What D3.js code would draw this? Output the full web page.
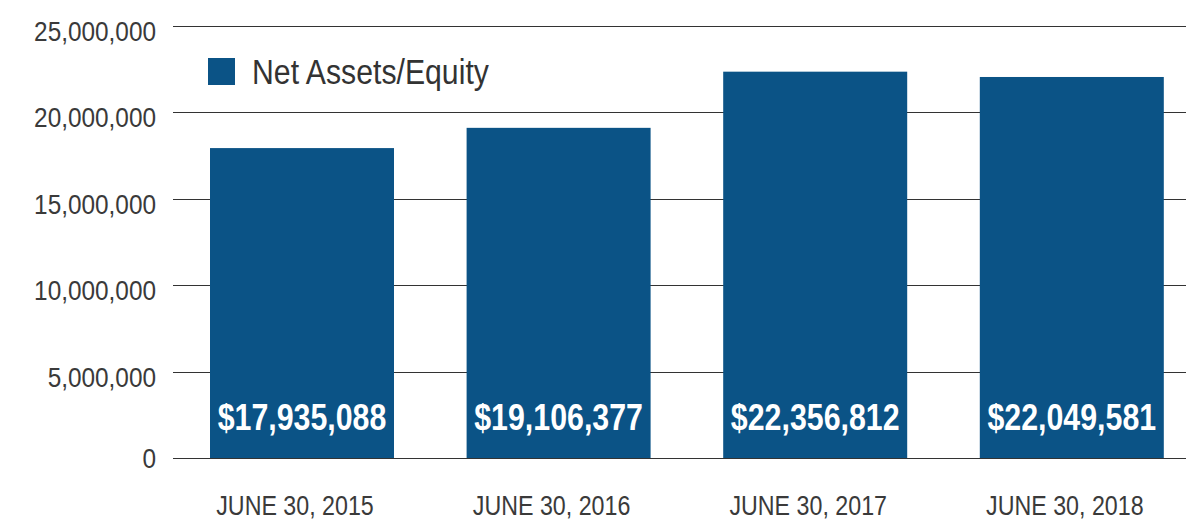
<!DOCTYPE html>
<html><head><meta charset="utf-8">
<script src="https://cdn.jsdelivr.net/npm/d3@7"></script>
<style>
body{margin:0;background:#fff;}
svg{display:block;}
text{font-family:"Liberation Sans",Arial,sans-serif;}
</style></head>
<body>
<svg id="c" width="1186" height="522"></svg>
<script>
const categories = ["JUNE 30, 2015","JUNE 30, 2016","JUNE 30, 2017","JUNE 30, 2018"];
const values = [17935088, 19106377, 22356812, 22049581];
const yTicks = [0, 5000000, 10000000, 15000000, 20000000, 25000000];
const seriesName = "Net Assets/Equity";
const barColor = "#0b5386";

const svg = d3.select("#c");
const plotLeft = 173, plotRight = 1186, plotTop = 26, plotBottom = 458;

const step = 256.6, barW = 184;
const xs = d3.scaleBand().domain(categories)
  .range([210 - (step - barW) / 2, 210 - (step - barW) / 2 + step * 4])
  .paddingInner((step - barW) / step).paddingOuter((step - barW) / step / 2);
const y = d3.scaleLinear().domain([0, 25000000]).range([plotBottom, plotTop]);
const fmt = d3.format(",");

// condensed text helper: position via transform, horizontally squeezed
function cond(sel, sx) {
  return sel.attr("transform", function () {
    const t = d3.select(this);
    return `translate(${t.attr("data-x")},${t.attr("data-y")}) scale(${sx},1)`;
  });
}

// gridlines
svg.append("g").selectAll("line").data(yTicks).join("line")
  .attr("x1", plotLeft).attr("x2", plotRight)
  .attr("y1", d => Math.round(y(d)) + 0.5).attr("y2", d => Math.round(y(d)) + 0.5)
  .attr("stroke", "#333").attr("stroke-width", 1);

// y tick labels
svg.append("g").selectAll("text").data(yTicks).join("text")
  .attr("data-x", 156).attr("data-y", d => y(d) + (d === 0 ? 10 : 15))
  .attr("text-anchor", "end").attr("font-size", 28).attr("fill", "#3a3a3a")
  .text(d => fmt(d))
  .call(cond, 0.87);

// bars
svg.append("g").selectAll("rect").data(values).join("rect")
  .attr("x", (d, i) => xs(categories[i])).attr("width", xs.bandwidth())
  .attr("y", d => y(d)).attr("height", d => plotBottom - y(d))
  .attr("fill", barColor);

// value labels
svg.append("g").selectAll("text").data(values).join("text")
  .attr("data-x", (d, i) => xs(categories[i]) + xs.bandwidth() / 2).attr("data-y", 430)
  .attr("text-anchor", "middle").attr("font-size", 37).attr("font-weight", "bold")
  .attr("fill", "#fff").text(d => "$" + fmt(d))
  .call(cond, 0.82);

// x labels
svg.append("g").selectAll("text").data(categories).join("text")
  .attr("data-x", d => xs(d) + xs.bandwidth() / 2 - 7).attr("data-y", 515)
  .attr("text-anchor", "middle").attr("font-size", 28).attr("fill", "#3a3a3a")
  .text(d => d)
  .call(cond, 0.83);

// legend
const lg = svg.append("g");
lg.append("rect").attr("x", 208).attr("y", 58).attr("width", 27).attr("height", 27).attr("fill", barColor);
lg.append("text").attr("data-x", 252).attr("data-y", 84).attr("font-size", 36).attr("fill", "#333")
  .text(seriesName).call(cond, 0.84);
</script>
</body></html>
